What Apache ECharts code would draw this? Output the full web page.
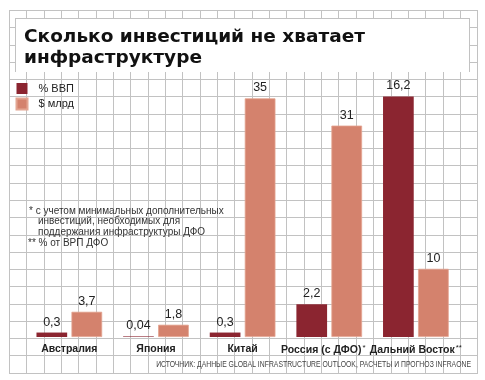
<!DOCTYPE html>
<html><head><meta charset="utf-8">
<script src="https://cdn.jsdelivr.net/npm/echarts@6/dist/echarts.min.js"></script>
<style>html,body{margin:0;padding:0;background:#fff}#c{width:485px;height:380px}</style>
</head><body><div id="c"></div>
<script>
const categories = ['Австралия', 'Япония', 'Китай', 'Россия (с ДФО)', 'Дальний Восток'];
const categoryMarks = ['', '', '', '*', '**'];
const gdpShare = [0.3, 0.04, 0.3, 2.2, 16.2];
const usdBn = [3.7, 1.8, 35, 31, 10];
const seriesNames = ['% ВВП', '$ млрд'];
const titleText = 'Сколько инвестиций не хватает\nинфраструктуре';
const footnoteLines = ['* с учетом минимальных дополнительных', 'инвестиций, необходимых для', 'поддержания инфраструктуры ДФО', '** % от ВРП ДФО'];
const sourceText = 'ИСТОЧНИК: ДАННЫЕ GLOBAL INFRASTRUCTURE OUTLOOK, РАСЧЕТЫ И ПРОГНОЗ INFRAONE';

const DARK = '#8B2530', SALMON = '#D4826D', GRIDC = '#c2c2c2';
const graphics = [];
// graph-paper background (decoration)
const x0 = 8.8, dx = 17.35, nx = 27, y0 = 10, dy = 17.27, ny = 21;
const gx0 = Math.round(x0), gx1 = Math.round(x0 + nx * dx), gy0 = Math.round(y0), gy1 = Math.round(y0 + ny * dy);
for (let k = 0; k <= nx; k++) {
  const x = Math.round(x0 + k * dx);
  graphics.push({type: 'rect', z: -10, silent: true, shape: {x: x, y: gy0, width: 1, height: gy1 - gy0 + 1}, style: {fill: GRIDC}});
}
for (let k = 0; k <= ny; k++) {
  const y = Math.round(y0 + k * dy);
  graphics.push({type: 'rect', z: -10, silent: true, shape: {x: gx0, y: y, width: gx1 - gx0 + 1, height: 1}, style: {fill: GRIDC}});
}
// title box
graphics.push({type: 'rect', z: -5, silent: true, shape: {x: 16, y: 19, width: 453, height: 53}, style: {fill: '#fff'}});
graphics.push({type: 'rect', z: -4, silent: true, shape: {x: 15, y: 18, width: 1, height: 54}, style: {fill: GRIDC}});
graphics.push({type: 'rect', z: -4, silent: true, shape: {x: 15, y: 18, width: 455, height: 1}, style: {fill: GRIDC}});
graphics.push({type: 'rect', z: -4, silent: true, shape: {x: 469, y: 18, width: 1, height: 54}, style: {fill: GRIDC}});
// footnotes
const fnX = [29, 38, 38, 28];
footnoteLines.forEach((t, i) => {
  graphics.push({type: 'text', z: 5, silent: true, style: {x: fnX[i], y: 211 + i * 10.6, text: t, fill: '#333', font: '10px "Liberation Sans", Arial, sans-serif', verticalAlign: 'middle'}});
});
graphics.push({type: 'text', z: 5, silent: true, x: 471, y: 365, scaleX: 0.76, originX: 0, originY: 0,
  style: {x: 0, y: 0, text: sourceText, fill: '#444', font: '9px "Liberation Sans", Arial, sans-serif', align: 'right', verticalAlign: 'middle'}});

const fmt = p => String(p.value).replace('.', ',');
const labelFont = '"Liberation Sans", Arial, sans-serif';
const chart = echarts.init(document.getElementById('c'), null, {renderer: 'canvas'});
chart.setOption({
  animation: false,
  title: {
    text: titleText, left: 24, top: 26, padding: 0,
    textStyle: {fontSize: 18.5, fontWeight: 'bold', fontFamily: '"DejaVu Sans", sans-serif', lineHeight: 21.5, color: '#111'}
  },
  legend: {
    orient: 'vertical', left: 15.5, top: 83, padding: 0, itemWidth: 11, itemHeight: 11, itemGap: 3.5,
    icon: 'rect', selectedMode: false,
    textStyle: {fontSize: 11, color: '#222', fontFamily: labelFont, padding: [0, 0, 0, 6]},
    data: seriesNames
  },
  grid: {left: 26, right: 25.8, top: 90, bottom: 43, containLabel: false},
  xAxis: {
    type: 'category', data: categories,
    axisLine: {show: false}, axisTick: {show: false}, splitLine: {show: false},
    axisLabel: {
      interval: 0, margin: 7, hideOverlap: false,
      formatter: (v, i) => {
        if (!categoryMarks[i]) return '{a|' + v + '}';
        return '{a|' + v + '}' + (i === 3 ? '{r|' : '{s|') + categoryMarks[i] + '}';
      },
      rich: {
        a: {fontSize: 10.5, fontWeight: 'bold', color: '#222', fontFamily: labelFont},
        s: {fontSize: 8, color: '#222', verticalAlign: 'top', padding: [0, 0, 4, 1], fontFamily: labelFont},
        r: {fontSize: 8, color: '#222', verticalAlign: 'top', padding: [0, 12, 4, 1], fontFamily: labelFont}
      }
    }
  },
  yAxis: [
    {type: 'value', min: 0, max: 16.64, show: false, splitLine: {show: false}},
    {type: 'value', min: 0, max: 36.22, show: false, splitLine: {show: false}}
  ],
  series: [
    {name: seriesNames[0], type: 'bar', yAxisIndex: 0, data: gdpShare, barWidth: 30.7, barGap: '14%',
     itemStyle: {color: DARK},
     label: {show: true, position: 'top', distance: 4, formatter: fmt, fontSize: 12.5, color: '#222', fontFamily: labelFont}},
    {name: seriesNames[1], type: 'bar', yAxisIndex: 1, data: usdBn, barWidth: 30.7, barGap: '14%',
     itemStyle: {color: SALMON, borderColor: '#e3a592', borderWidth: 0.8},
     label: {show: true, position: 'top', distance: 4, formatter: fmt, fontSize: 12.5, color: '#222', fontFamily: labelFont}}
  ],
  graphic: graphics
});
</script></body></html>
